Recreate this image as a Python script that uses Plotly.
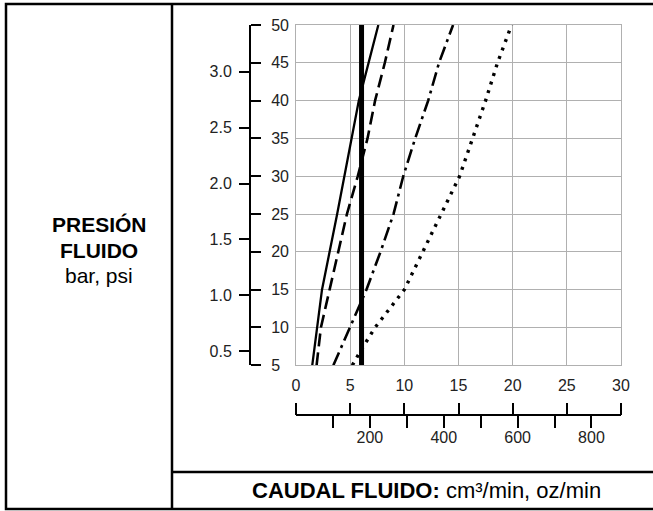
import plotly.graph_objects as go

W, H = 653, 511

# Axis scales
oz_ticks = [0, 5, 10, 15, 20, 25, 30]
psi_ticks = [5, 10, 15, 20, 25, 30, 35, 40, 45, 50]
bar_ticks = [0.5, 1.0, 1.5, 2.0, 2.5, 3.0]
cm3_ticks = [100, 200, 300, 400, 500, 600, 700, 800]
cm3_labels = ["", "200", "", "400", "", "600", "", "800"]

# Flow curves: flow (oz/min) against fluid pressure (psi)
solid_psi = [5, 15, 25, 35, 40, 50]
solid_oz = [1.5, 2.4, 3.8, 5.1, 5.8, 7.6]

dash_psi = [5, 10, 15, 20, 25, 30, 35, 40, 45, 50]
dash_oz = [1.9, 2.3, 3.1, 3.9, 4.7, 5.7, 6.6, 7.3, 8.2, 9.0]

dashdot_psi = [5, 10, 15, 20, 25, 30, 35, 40, 45, 50]
dashdot_oz = [3.45, 5.0, 6.5, 7.8, 9.0, 9.9, 11.0, 12.2, 13.2, 14.5]

dot_psi = [5, 7, 10, 15, 20, 25, 30, 35, 40, 45, 50]
dot_oz = [5.2, 6.0, 7.3, 10.0, 11.7, 13.4, 15.1, 16.3, 17.5, 18.6, 19.9]

thick_psi = [5, 50]
thick_oz = [6.05, 6.05]

FONT = "Liberation Sans, Arial, Helvetica, sans-serif"


def px(x):
    return x / W


def py(y):
    return 1 - y / H


fig = go.Figure()
fig.add_trace(go.Scatter(x=solid_oz, y=solid_psi, mode="lines",
                         line=dict(color="black", width=2.3)))
fig.add_trace(go.Scatter(x=dash_oz, y=dash_psi, mode="lines",
                         line=dict(color="black", width=2.6, dash="13px,6px")))
fig.add_trace(go.Scatter(x=dashdot_oz, y=dashdot_psi, mode="lines",
                         line=dict(color="black", width=2.6,
                                   dash="14px,5px,3px,5px")))
fig.add_trace(go.Scatter(x=dot_oz, y=dot_psi, mode="lines",
                         line=dict(color="black", width=3.4, dash="3px,6px")))
fig.add_trace(go.Scatter(x=thick_oz, y=thick_psi, mode="lines",
                         line=dict(color="black", width=5)))
# empty traces so the secondary scales get drawn
fig.add_trace(go.Scatter(x=[], y=[], xaxis="x2", yaxis="y2",
                         hoverinfo="skip"))
fig.add_trace(go.Scatter(x=[], y=[], xaxis="x3", yaxis="y3",
                         hoverinfo="skip"))

grid = "#b0b0b0"
tickfont = dict(family=FONT, size=16, color="#222")

fig.update_layout(
    width=W, height=H,
    margin=dict(l=0, r=0, t=0, b=0),
    paper_bgcolor="white", plot_bgcolor="white",
    showlegend=False,
    xaxis=dict(domain=[px(296), px(621)], range=[0, 30], tickvals=oz_ticks,
               showgrid=True, gridcolor=grid, gridwidth=1, zeroline=False,
               showline=True, mirror=True, linecolor=grid, linewidth=1,
               ticks="", ticklabelstandoff=5, tickfont=tickfont,
               automargin=False, fixedrange=True),
    yaxis=dict(domain=[py(365.3), py(25)], range=[5, 50], tickvals=psi_ticks,
               showgrid=True, gridcolor=grid, gridwidth=1, zeroline=False,
               showline=True, mirror=True, linecolor=grid, linewidth=1,
               showticklabels=False, ticks="", automargin=False,
               fixedrange=True),
    # psi scale
    yaxis2=dict(overlaying="y", anchor="free", position=px(250), side="right",
                range=[5, 50], tickvals=psi_ticks, ticks="outside", ticklen=10,
                tickwidth=2, tickcolor="black", showline=True,
                linecolor="black", linewidth=2, showgrid=False,
                zeroline=False, tickfont=tickfont, ticklabelstandoff=7,
                automargin=False, fixedrange=True),
    # bar scale
    yaxis3=dict(overlaying="y", anchor="free", position=px(250), side="left",
                range=[0.373, 3.419], tickvals=bar_ticks, tickformat=".1f",
                ticks="outside", ticklen=11, tickwidth=2, tickcolor="black",
                showline=False, showgrid=False, zeroline=False,
                tickfont=tickfont, ticklabelstandoff=4,
                automargin=False, fixedrange=True),
    # cm3/min scale
    xaxis2=dict(overlaying="x", anchor="free", position=py(415), side="bottom",
                range=[0, 880], tickvals=cm3_ticks, ticktext=cm3_labels,
                ticks="outside", ticklen=12, tickwidth=2, tickcolor="black",
                showline=True, linecolor="black", linewidth=2,
                showgrid=False, zeroline=False, tickfont=tickfont,
                ticklabelstandoff=-4,
                automargin=False, fixedrange=True),
    # oz/min ticks on the lower scale
    xaxis3=dict(overlaying="x", anchor="free", position=py(415), side="top",
                range=[0, 30], tickvals=oz_ticks, ticks="outside", ticklen=12,
                tickwidth=2, tickcolor="black", showticklabels=False,
                showline=False, showgrid=False, zeroline=False,
                automargin=False, fixedrange=True),
)

# Table frame
frame = dict(color="black", width=2.5)
fig.add_shape(type="rect", xref="paper", yref="paper",
              x0=px(6), x1=px(665), y0=py(509), y1=py(4), line=frame)
fig.add_shape(type="line", xref="paper", yref="paper",
              x0=px(172), x1=px(172), y0=py(509), y1=py(4), line=frame)
fig.add_shape(type="line", xref="paper", yref="paper",
              x0=px(172), x1=px(665), y0=py(472), y1=py(472), line=frame)

# Row and column titles
title_font = dict(family=FONT, size=21, color="black")
for text, yy in [("<b>PRESIÓN</b>", 225), ("<b>FLUIDO</b>", 250.5),
                 ("bar, psi", 275)]:
    fig.add_annotation(x=px(99), y=py(yy), xref="paper", yref="paper",
                       xanchor="center", yanchor="middle", text=text,
                       showarrow=False, font=title_font)
fig.add_annotation(x=px(426), y=py(490), xref="paper", yref="paper",
                   xanchor="center", yanchor="middle",
                   text="<b>CAUDAL FLUIDO:</b> cm³/min, oz/min",
                   showarrow=False, font=dict(family=FONT, size=22,
                                              color="black"))

fig.write_html("out.html")
